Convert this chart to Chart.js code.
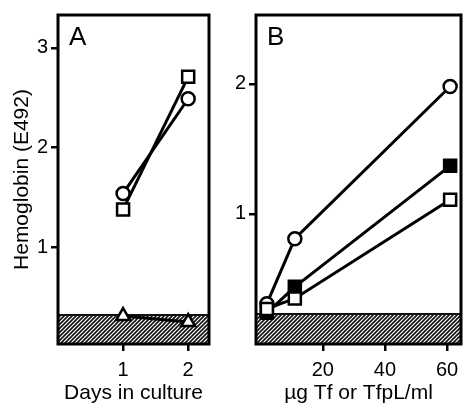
<!DOCTYPE html>
<html>
<head>
<meta charset="utf-8">
<script src="https://cdn.jsdelivr.net/npm/chart.js@4.4.1/dist/chart.umd.min.js"></script>
<style>
  body { margin: 0; background: #fff; }
  #wrapA { position: absolute; left: 0; top: 0; width: 228px; height: 408px; }
  #wrapB { position: absolute; left: 228px; top: 0; width: 244px; height: 408px; }
</style>
</head>
<body>
<div id="wrapA"><canvas id="js--chartA"></canvas></div>
<div id="wrapB"><canvas id="js--chartB"></canvas></div>
<script>
// data panel A
const dagen = [1, 2];
const cirkelA = [1.54, 2.49];
const vierkantA = [1.38, 2.71];
const driehoekA = [0.31, 0.25];
const yTicksA = [1, 2, 3];
const xTicksA = [1, 2];
const achtergrondA = 0.32;

// data panel B
const dosis = [2, 11, 61];
const cirkelB = [0.31, 0.81, 1.98];
const zwartB = [0.24, 0.44, 1.37];
const openB = [0.27, 0.35, 1.11];
const yTicksB = [1, 2];
const xTicksB = [20, 40, 60];
const achtergrondB = 0.23;

const font = "'Liberation Sans', Arial, sans-serif";

function punten(xs, ys) {
    return xs.map((x, i) => ({x: x, y: ys[i]}));
}

// arcering
const tegel = document.createElement("canvas");
tegel.width = 4;
tegel.height = 4;
const tctx = tegel.getContext("2d");
tctx.fillStyle = "#fff";
tctx.fillRect(0, 0, 4, 4);
tctx.strokeStyle = "#111";
tctx.lineWidth = 1.6;
tctx.beginPath();
tctx.moveTo(-1, 5); tctx.lineTo(5, -1);
tctx.moveTo(-1, 1); tctx.lineTo(1, -1);
tctx.moveTo(3, 5); tctx.lineTo(5, 3);
tctx.stroke();

const paneelPlugin = {
    id: "paneel",
    beforeDatasetsDraw(chart, args, opts) {
        const ctx = chart.ctx;
        const a = chart.chartArea;
        const yTop = chart.scales.y.getPixelForValue(opts.achtergrond);
        ctx.save();
        ctx.fillStyle = ctx.createPattern(tegel, "repeat");
        ctx.fillRect(a.left, yTop, a.right - a.left, a.bottom - yTop);
        ctx.strokeStyle = "#111";
        ctx.lineWidth = 2;
        ctx.beginPath();
        ctx.moveTo(a.left, yTop);
        ctx.lineTo(a.right, yTop);
        ctx.stroke();
        ctx.restore();
    },
    afterDraw(chart, args, opts) {
        const ctx = chart.ctx;
        const a = chart.chartArea;
        ctx.save();
        ctx.strokeStyle = "#000";
        ctx.lineWidth = 3;
        ctx.strokeRect(a.left, a.top, a.right - a.left, a.bottom - a.top);
        ctx.fillStyle = "#000";
        ctx.font = "26px " + font;
        ctx.textBaseline = "alphabetic";
        ctx.fillText(opts.letter, a.left + 11, a.top + 30);
        ctx.restore();
    }
};

function lijn(data, stijl, vul, r) {
    return {
        data: data,
        borderColor: "#000",
        borderWidth: 3,
        pointStyle: stijl,
        pointRadius: r,
        pointBorderWidth: 2.5,
        pointBackgroundColor: vul,
        pointBorderColor: "#000",
        showLine: true,
        tension: 0
    };
}

function schalen(xmin, xmax, ymin, ymax, xt, yt, xTitel, yTitel, yBreedte) {
    return {
        x: {
            type: "linear",
            min: xmin,
            max: xmax,
            afterBuildTicks: s => { s.ticks = xt.map(v => ({value: v})); },
            afterFit: s => { s.height = 64; },
            border: {display: false},
            grid: {drawOnChartArea: false, drawTicks: true, tickLength: 7, color: "#000", lineWidth: 2.5},
            ticks: {color: "#000", font: {family: font, size: 20}, padding: 7, maxRotation: 0},
            title: {display: true, text: xTitel, color: "#000", font: {family: font, size: 21}, padding: {top: 0, bottom: 2}}
        },
        y: {
            type: "linear",
            min: ymin,
            max: ymax,
            afterBuildTicks: s => { s.ticks = yt.map(v => ({value: v})); },
            afterFit: s => { s.width = yBreedte; },
            border: {display: false},
            grid: {drawOnChartArea: false, drawTicks: true, tickLength: 7, color: "#000", lineWidth: 2.5},
            ticks: {color: "#000", font: {family: font, size: 20}, padding: 3},
            title: {display: yTitel !== "", text: yTitel, color: "#000", font: {family: font, size: 21}, padding: {top: 10, bottom: 0}}
        }
    };
}

const chartA = new Chart(document.getElementById("js--chartA"), {
    type: "scatter",
    data: {
        datasets: [
            lijn(punten(dagen, driehoekA), "triangle", "#fff", 8),
            lijn(punten(dagen, cirkelA), "circle", "#fff", 6.5),
            lijn(punten(dagen, vierkantA), "rect", "#fff", 8.5)
        ]
    },
    options: {
        responsive: true,
        maintainAspectRatio: false,
        animation: false,
        layout: {padding: {top: 14, right: 19, bottom: 0, left: 0}},
        scales: schalen(0, 2.32, 0.03, 3.33, xTicksA, yTicksA, "Days in culture", "Hemoglobin (E492)", 58),
        plugins: {
            legend: {display: false},
            tooltip: {enabled: false},
            paneel: {letter: "A", achtergrond: achtergrondA}
        }
    },
    plugins: [paneelPlugin]
});

const chartB = new Chart(document.getElementById("js--chartB"), {
    type: "scatter",
    data: {
        datasets: [
            lijn(punten(dosis, openB), "rect", "#fff", 8.5),
            lijn(punten(dosis, zwartB), "rect", "#000", 8.5),
            lijn(punten(dosis, cirkelB), "circle", "#fff", 6.5)
        ]
    },
    options: {
        responsive: true,
        maintainAspectRatio: false,
        animation: false,
        layout: {padding: {top: 13, right: 5, bottom: 0, left: 0}},
        scales: schalen(-1.5, 64.5, 0, 2.53, xTicksB, yTicksB, "µg Tf or TfpL/ml", "", 28),
        plugins: {
            legend: {display: false},
            tooltip: {enabled: false},
            paneel: {letter: "B", achtergrond: achtergrondB}
        }
    },
    plugins: [paneelPlugin]
});
</script>
</body>
</html>
